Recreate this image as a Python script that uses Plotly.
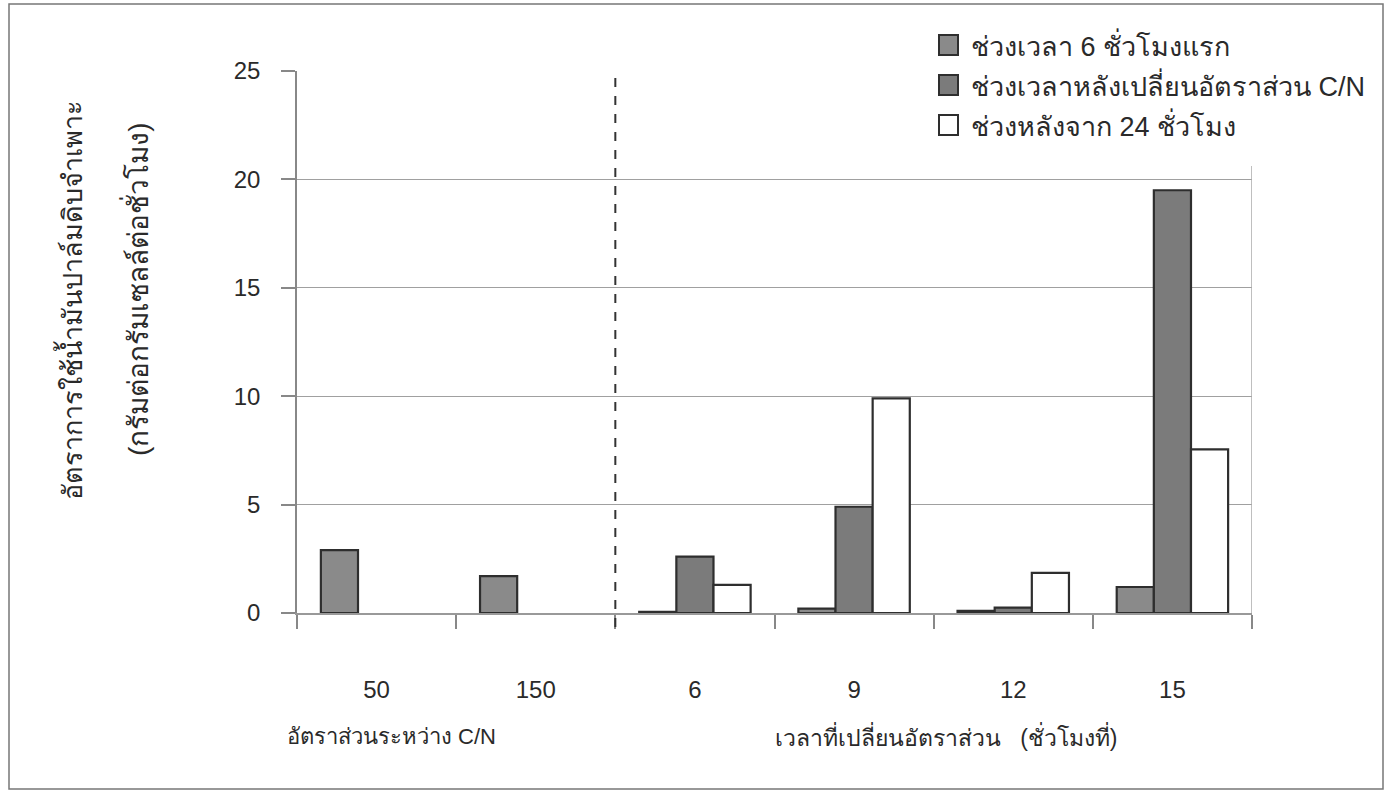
import plotly.graph_objects as go

# Categories: two C/N ratios, then the hour at which the ratio was changed
categories = ["50", "150", "6", "9", "12", "15"]

series_names = [
    "ช่วงเวลา 6 ชั่วโมงแรก",
    "ช่วงเวลาหลังเปลี่ยนอัตราส่วน C/N",
    "ช่วงหลังจาก 24 ชั่วโมง",
]
first_6h = [2.9, 1.7, 0.05, 0.2, 0.1, 1.2]
after_change = [None, None, 2.6, 4.9, 0.25, 19.5]
after_24h = [None, None, 1.3, 9.9, 1.85, 7.55]

y_ticks = [0, 5, 10, 15, 20, 25]

W, H = 1385, 792
ML, MR, MT, MB = 297, 133, 71, 179
PW, PH = W - ML - MR, H - MT - MB


def px(x):
    return (x - ML) / PW


def py(y):
    return (H - MB - y) / PH


fills = ["#8a8a8a", "#7b7b7b", "#ffffff"]
outline = "#2e2e2e"
font_main = "Liberation Sans, Arial, sans-serif"
text_col = "#2a2a2a"

fig = go.Figure()
for name, vals, col in zip(series_names, [first_6h, after_change, after_24h], fills):
    fig.add_trace(go.Bar(
        x=categories, y=vals, name=name,
        marker=dict(color=col, line=dict(color=outline, width=2.2)),
        showlegend=False,
    ))

shapes = []
annotations = []

# dashed separator between the two groups of categories
shapes.append(dict(type="line", xref="x", yref="paper", x0=1.5, x1=1.5,
                   y0=-14 / PH, y1=1, line=dict(color="#333333", width=2, dash="dash")))
# right edge of the plot area
shapes.append(dict(type="line", xref="x", yref="paper", x0=5.5, x1=5.5,
                   y0=0, y1=1, line=dict(color="#aaaaaa", width=1.5)))

# legend block
shapes.append(dict(type="rect", xref="paper", yref="paper", layer="above",
                   x0=px(925), x1=px(1381), y0=py(166), y1=py(22),
                   fillcolor="white", line=dict(width=0)))
rows_y = [45, 85, 125]
for name, col, ry in zip(series_names, fills, rows_y):
    shapes.append(dict(type="rect", xref="paper", yref="paper", layer="above",
                       x0=px(939), x1=px(958), y0=py(ry + 10), y1=py(ry - 10),
                       fillcolor=col, line=dict(color=outline, width=2)))
    annotations.append(dict(xref="paper", yref="paper", x=px(969), y=py(ry),
                            xanchor="left", yanchor="middle", showarrow=False,
                            text=name, font=dict(size=27, color=text_col, family=font_main)))

# outer frame
shapes.append(dict(type="rect", xref="paper", yref="paper",
                   x0=px(9), x1=px(1383), y0=py(789), y1=py(4),
                   line=dict(color="#777777", width=1.5)))

# group captions under the category labels
annotations.append(dict(xref="paper", yref="paper", x=px(285), y=py(736),
                        xanchor="left", yanchor="middle", showarrow=False,
                        text="อัตราส่วนระหว่าง C/N",
                        font=dict(size=22, color=text_col, family=font_main)))
annotations.append(dict(xref="paper", yref="paper", x=px(773), y=py(736),
                        xanchor="left", yanchor="middle", showarrow=False,
                        text="เวลาที่เปลี่ยนอัตราส่วน\u00a0\u00a0\u00a0(ชั่วโมงที่)",
                        font=dict(size=23, color=text_col, family=font_main)))

# y-axis title, two rotated lines
annotations.append(dict(xref="paper", yref="paper", x=px(70), y=py(300),
                        xanchor="center", yanchor="middle", showarrow=False, textangle=-90,
                        text="อัตราการใช้น้ำมันปาล์มดิบจำเพาะ",
                        font=dict(size=27, color=text_col, family=font_main)))
annotations.append(dict(xref="paper", yref="paper", x=px(136), y=py(289),
                        xanchor="center", yanchor="middle", showarrow=False, textangle=-90,
                        text="(กรัมต่อกรัมเซลล์ต่อชั่วโมง)",
                        font=dict(size=28, color=text_col, family=font_main)))

fig.update_layout(
    width=W, height=H,
    margin=dict(l=ML, r=MR, t=MT, b=MB, pad=0),
    paper_bgcolor="white", plot_bgcolor="white",
    barmode="group", bargap=0.3, bargroupgap=0,
    font=dict(family=font_main, color=text_col),
    shapes=shapes, annotations=annotations,
    showlegend=False,
    xaxis=dict(
        type="category", range=[-0.5, 5.5],
        tickson="boundaries", ticks="outside", ticklen=14, tickcolor="#888888", tickwidth=1.5,
        showline=True, linecolor="#999999", linewidth=1.5,
        showgrid=False, zeroline=False,
        ticklabelstandoff=54,
        tickfont=dict(size=24, color=text_col, family=font_main),
    ),
    yaxis=dict(
        range=[0, 25], tickvals=y_ticks, ticks="outside", ticklen=14,
        tickcolor="#888888", tickwidth=1.5,
        showline=True, linecolor="#888888", linewidth=1.5,
        showgrid=True, gridcolor="#a0a0a0", gridwidth=1.3, zeroline=False,
        ticklabelstandoff=16,
        tickfont=dict(size=24, color=text_col, family=font_main),
    ),
)

fig.write_html("out.html")
